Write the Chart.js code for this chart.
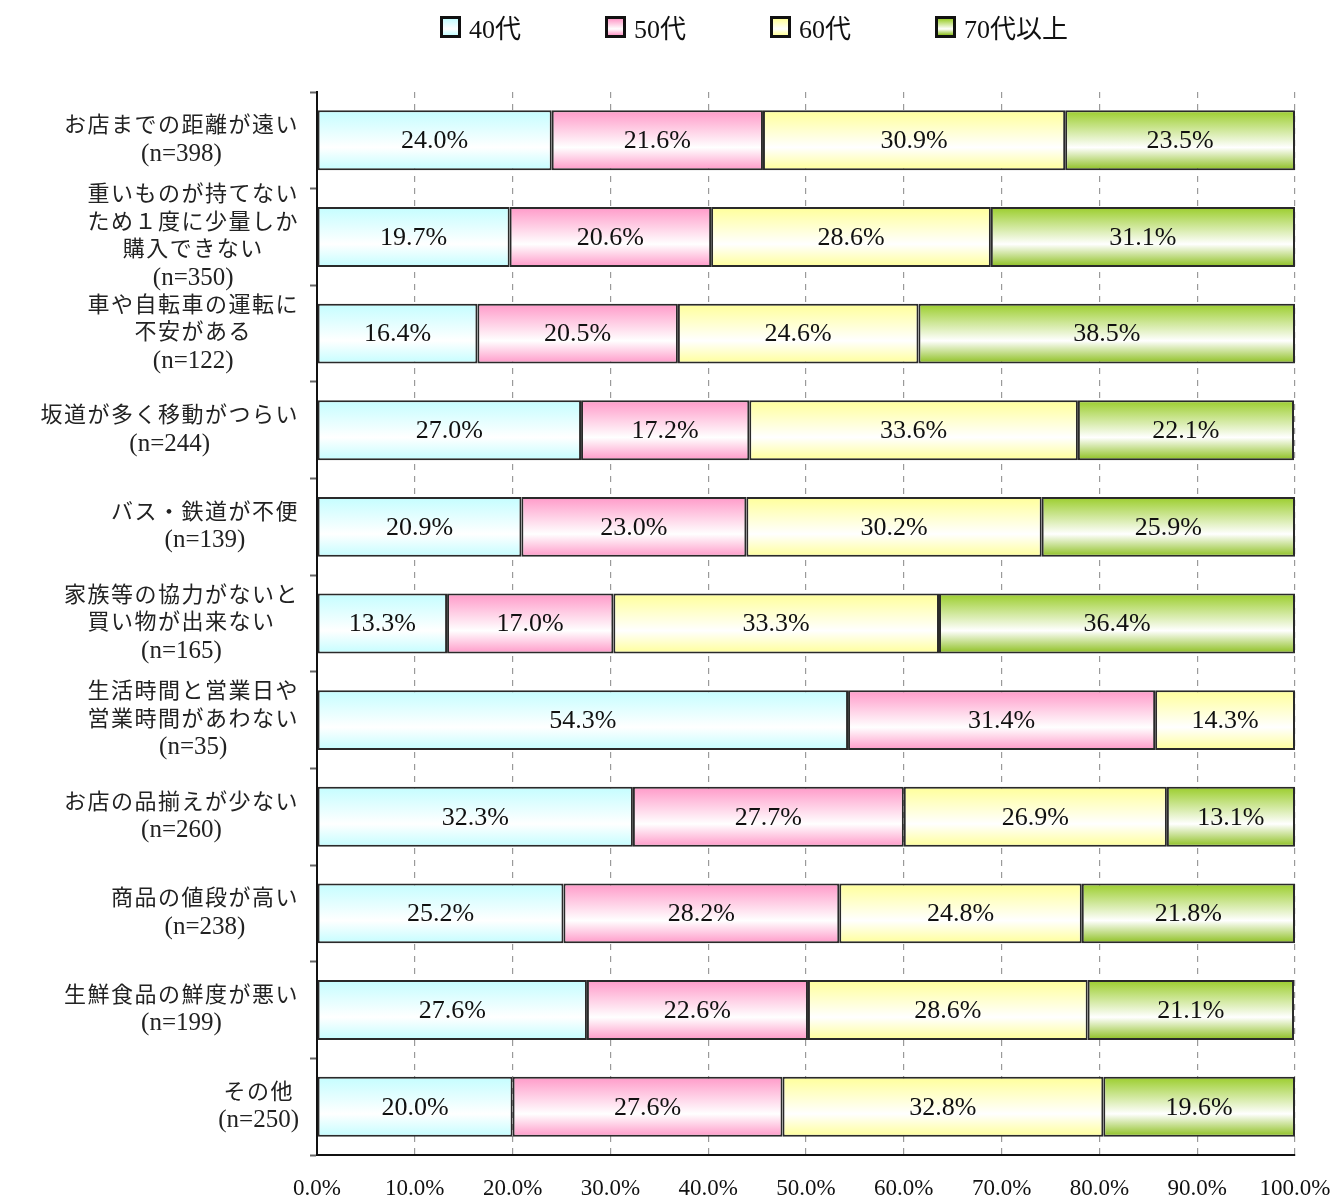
<!DOCTYPE html>
<html lang="ja">
<head>
<meta charset="utf-8">
<title>買い物で困っていること（年代別）</title>
<script src="https://cdn.jsdelivr.net/npm/chart.js@4/dist/chart.umd.min.js"></script>
<style>
  html, body { margin: 0; padding: 0; background: #fff; }
  #wrap { position: relative; width: 1333px; height: 1197px; }
  #legend {
    position: absolute; left: 440px; top: 8px; display: flex;
    font: 26px "Liberation Serif", "Noto Sans CJK JP", serif; color: #111;
  }
  #legend .item { display: flex; align-items: center; width: 165px; }
  #legend .box {
    width: 21px; height: 22px; box-sizing: border-box;
    border: 3px solid #111; margin-right: 8px;
  }
</style>
</head>
<body>
<div id="wrap">
  <canvas id="chart" width="1333" height="1197"></canvas>
  <div id="legend"></div>
</div>
<script>
// Categories (each entry is the label split into lines)
const categories = [
  ['お店までの距離が遠い', '(n=398)'],
  ['重いものが持てない', 'ため１度に少量しか', '購入できない', '(n=350)'],
  ['車や自転車の運転に', '不安がある', '(n=122)'],
  ['坂道が多く移動がつらい', '(n=244)'],
  ['バス・鉄道が不便', '(n=139)'],
  ['家族等の協力がないと', '買い物が出来ない', '(n=165)'],
  ['生活時間と営業日や', '営業時間があわない', '(n=35)'],
  ['お店の品揃えが少ない', '(n=260)'],
  ['商品の値段が高い', '(n=238)'],
  ['生鮮食品の鮮度が悪い', '(n=199)'],
  ['その他', '(n=250)']
];

const seriesNames = ['40代', '50代', '60代', '70代以上'];

// Share (%) per age group
const age40 = [24.0, 19.7, 16.4, 27.0, 20.9, 13.3, 54.3, 32.3, 25.2, 27.6, 20.0];
const age50 = [21.6, 20.6, 20.5, 17.2, 23.0, 17.0, 31.4, 27.7, 28.2, 22.6, 27.6];
const age60 = [30.9, 28.6, 24.6, 33.6, 30.2, 33.3, 14.3, 26.9, 24.8, 28.6, 32.8];
const age70 = [23.5, 31.1, 38.5, 22.1, 25.9, 36.4, null, 13.1, 21.8, 21.1, 19.6];

const xTickValues = [0, 10, 20, 30, 40, 50, 60, 70, 80, 90, 100];

// edge colours of the white-centred gradients [top, bottom]
const edgeColors = [
  ['#c4fdff', '#c4fdff'],
  ['#ff99c8', '#ff99c8'],
  ['#ffff99', '#ffff99'],
  ['#9acd2a', '#8cbf1e']
];

const BAR_PCT = 0.62;
const serif = '"Liberation Serif", "Noto Sans CJK JP", serif';

function gradientFill(edges) {
  return function(ctx) {
    const chart = ctx.chart;
    const y = chart.scales.y;
    if (!y || ctx.dataIndex === undefined || !chart.chartArea) return edges[0];
    const c = y.getPixelForValue(ctx.dataIndex);
    const half = (y.height / categories.length) * BAR_PCT / 2;
    const g = chart.ctx.createLinearGradient(0, c - half, 0, c + half);
    g.addColorStop(0, edges[0]);
    g.addColorStop(0.62, '#ffffff');
    g.addColorStop(1, edges[1]);
    return g;
  };
}

// Legend (HTML)
const legendEl = document.getElementById('legend');
seriesNames.forEach((name, i) => {
  const item = document.createElement('div');
  item.className = 'item';
  item.innerHTML = `<span class="box" style="background:linear-gradient(to bottom, ${edgeColors[i][0]} 0%, #fff 62%, ${edgeColors[i][1]} 100%)"></span>${name}`;
  legendEl.appendChild(item);
});

// Category labels on the left, one centred block per row
const yLabelPlugin = {
  id: 'yLabels',
  afterDraw(chart) {
    const ctx = chart.ctx;
    const y = chart.scales.y;
    const lineH = 27.5;
    const setFont = line => {
      if (line.startsWith('(')) {
        ctx.font = '25px ' + serif;
        ctx.letterSpacing = '0px';
      } else {
        ctx.font = '22px ' + serif;
        ctx.letterSpacing = '1.5px';
      }
    };
    ctx.save();
    ctx.fillStyle = '#222';
    ctx.textAlign = 'center';
    ctx.textBaseline = 'middle';
    categories.forEach((lines, i) => {
      const c = y.getPixelForValue(i);
      const w = Math.max(...lines.map(l => { setFont(l); return ctx.measureText(l).width; }));
      const cx = 299 - w / 2;
      const top = c - (lines.length - 1) * lineH / 2;
      lines.forEach((l, k) => { setFont(l); ctx.fillText(l, cx, top + k * lineH); });
    });
    ctx.restore();
  }
};

// Percent labels inside the bar segments
const valueLabelPlugin = {
  id: 'valueLabels',
  afterDatasetsDraw(chart) {
    const ctx = chart.ctx;
    ctx.save();
    ctx.font = '26px ' + serif;
    ctx.fillStyle = '#111';
    ctx.textAlign = 'center';
    ctx.textBaseline = 'middle';
    chart.data.datasets.forEach((ds, di) => {
      const meta = chart.getDatasetMeta(di);
      meta.data.forEach((bar, i) => {
        const v = ds.data[i];
        if (v == null) return;
        ctx.fillText(v.toFixed(1) + '%', (bar.x + bar.base) / 2, bar.y + 1);
      });
    });
    ctx.restore();
  }
};

const seriesData = [age40, age50, age60, age70];

new Chart(document.getElementById('chart'), {
  type: 'bar',
  data: {
    labels: categories,
    datasets: seriesNames.map((name, i) => ({
      label: name,
      data: seriesData[i],
      backgroundColor: gradientFill(edgeColors[i]),
      borderColor: '#2a2a2a',
      borderWidth: 2,
      borderSkipped: false,
      categoryPercentage: BAR_PCT,
      barPercentage: 1
    }))
  },
  options: {
    indexAxis: 'y',
    responsive: false,
    animation: false,
    layout: { padding: { top: 92, right: 0, bottom: 0, left: 0 } },
    plugins: {
      legend: { display: false },
      tooltip: { enabled: false }
    },
    scales: {
      x: {
        stacked: true,
        min: 0,
        max: 100,
        afterBuildTicks(scale) {
          scale.ticks = xTickValues.map(v => ({ value: v }));
        },
        afterFit(scale) {
          scale.height = 42;
          scale.paddingLeft = 0;
          scale.paddingRight = 38;
        },
        ticks: {
          padding: 20,
          color: '#111',
          font: { family: serif, size: 23 },
          maxRotation: 0,
          callback: v => Number(v).toFixed(1) + '%'
        },
        grid: { color: '#9a9a9a', lineWidth: 1.2, drawTicks: false },
        border: { color: '#111', width: 2, dash: [6, 6] }
      },
      y: {
        stacked: true,
        afterFit(scale) { scale.width = 317; },
        ticks: { display: false },
        grid: {
          drawOnChartArea: false,
          drawTicks: true,
          tickLength: 7,
          tickColor: '#666',
          tickWidth: 2,
          offset: true
        },
        border: { color: '#111', width: 2 }
      }
    }
  },
  plugins: [yLabelPlugin, valueLabelPlugin]
});
</script>
</body>
</html>
